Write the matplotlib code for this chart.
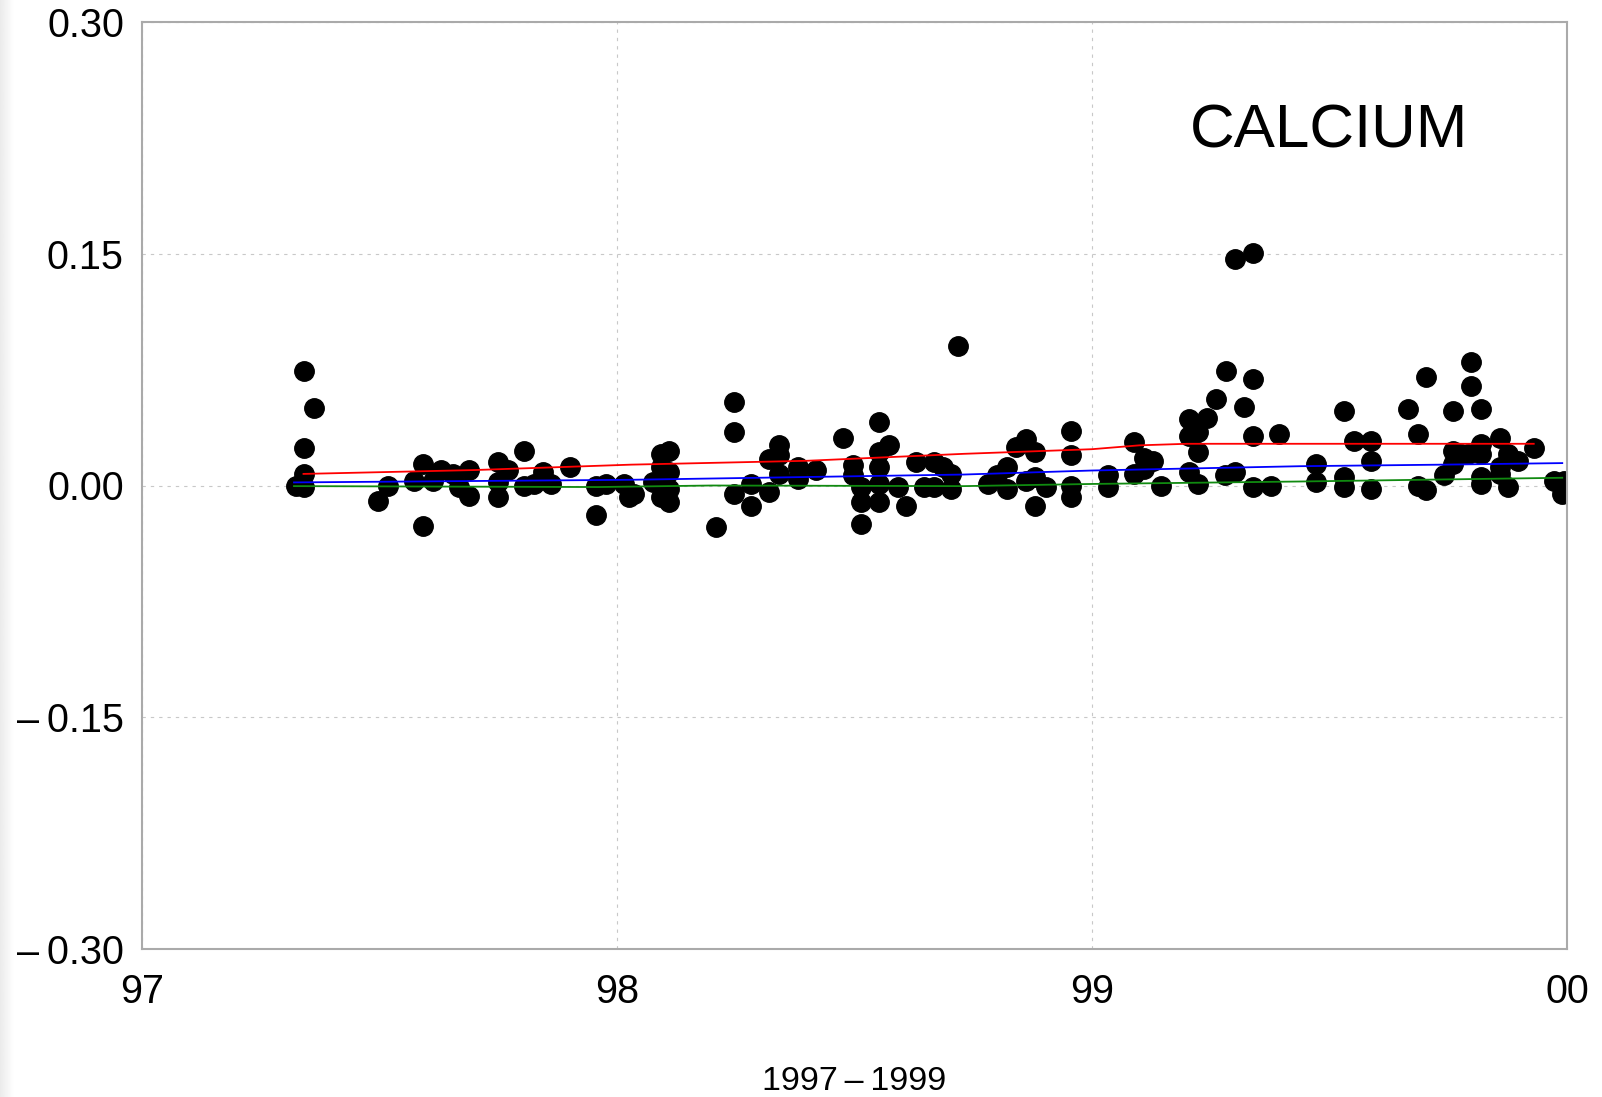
import numpy as np
import matplotlib
matplotlib.use("Agg")
import matplotlib.pyplot as plt

plt.rcParams['font.family'] = ['Liberation Sans', 'DejaVu Sans']

# measured points (x in years 97..100, y = calcium)
pts_x = [97.324, 97.342, 97.363, 97.342, 97.342, 97.342, 97.496, 97.517, 97.591, 97.591,
         97.573, 97.612, 97.630, 97.654, 97.668, 97.689, 97.689, 97.749, 97.749, 97.749,
         97.770, 97.805, 97.805, 97.826, 97.844, 97.861, 97.900, 97.956, 97.956, 97.977,
         98.015, 98.026, 98.036, 98.093, 98.110, 98.093, 98.110, 98.075, 98.093, 98.110,
         98.093, 98.110, 98.247, 98.247, 98.247, 98.208, 98.282, 98.282, 98.321, 98.321,
         98.342, 98.342, 98.342, 98.380, 98.380, 98.419, 98.475, 98.496, 98.496, 98.514,
         98.514, 98.514, 98.552, 98.552, 98.552, 98.552, 98.552, 98.573, 98.591, 98.608,
         98.629, 98.647, 98.668, 98.668, 98.686, 98.703, 98.717, 98.703, 98.780, 98.801,
         98.822, 98.822, 98.840, 98.861, 98.879, 98.861, 98.879, 98.879, 98.903, 98.956,
         98.956, 98.956, 98.956, 99.033, 99.033, 99.089, 99.089, 99.110, 99.128, 99.110,
         99.145, 99.205, 99.205, 99.223, 99.223, 99.205, 99.223, 99.243, 99.261, 99.282,
         99.279, 99.300, 99.321, 99.338, 99.338, 99.338, 99.377, 99.394, 99.300, 99.338,
         99.472, 99.472, 99.531, 99.531, 99.531, 99.552, 99.587, 99.587, 99.587, 99.665,
         99.686, 99.686, 99.703, 99.703, 99.742, 99.759, 99.759, 99.759, 99.777, 99.791,
         99.798, 99.798, 99.819, 99.819, 99.819, 99.819, 99.819, 99.858, 99.858, 99.858,
         99.875, 99.875, 99.896, 99.931, 99.973, 99.994, 99.990]
pts_y = [0.000, 0.074, 0.050, 0.024, 0.0075, -0.001, -0.010, 0.000, -0.026, 0.014,
         0.003, 0.003, 0.010, 0.0075, -0.001, 0.010, -0.0065, 0.015, -0.0075, 0.002,
         0.010, 0.0225, 0.000, 0.001, 0.0085, 0.001, 0.012, -0.019, 0.000, 0.001,
         0.001, -0.0075, -0.0055, 0.0205, 0.0225, 0.012, 0.0085, 0.002, 0.001, -0.002,
         -0.0075, -0.011, 0.054, 0.0345, -0.0055, -0.027, 0.001, -0.013, -0.004, 0.017,
         0.026, 0.020, 0.0075, 0.012, 0.004, 0.010, 0.031, 0.013, 0.0065, -0.001,
         -0.011, -0.025, 0.041, 0.0215, 0.012, 0.001, -0.011, 0.026, -0.001, -0.013,
         0.015, -0.001, 0.015, -0.001, 0.012, -0.002, 0.0905, 0.0075, 0.001, 0.0065,
         0.012, -0.002, 0.025, 0.030, 0.0215, 0.003, 0.0055, -0.013, -0.001, 0.0355,
         0.0195, 0.000, -0.0075, 0.0065, -0.001, 0.028, 0.0075, 0.018, 0.016, 0.011,
         0.000, 0.043, 0.032, 0.0345, 0.0215, 0.0085, 0.001, 0.044, 0.056, 0.074,
         0.0065, 0.0085, 0.0505, 0.069, 0.032, -0.001, 0.000, 0.0335, 0.1465, 0.1505,
         0.014, 0.002, 0.0485, 0.0055, -0.001, 0.029, 0.029, 0.016, -0.002, 0.0495,
         0.0335, 0.000, -0.003, 0.070, 0.0065, 0.0485, 0.0225, 0.014, 0.0205, 0.0205,
         0.080, 0.0645, 0.0495, 0.027, 0.0205, 0.0055, 0.001, 0.031, 0.012, 0.0075,
         0.0205, -0.001, 0.016, 0.0245, 0.003, 0.003, -0.0055]

# smoothed curves
red_x = [97.34, 97.7, 98.03, 98.4, 98.73, 99.0, 99.1, 99.2, 99.5, 99.93]
red_y = [0.0075, 0.010, 0.0135, 0.016, 0.0205, 0.0235, 0.026, 0.027, 0.027, 0.027]
blue_x = [97.32, 98.03, 98.4, 98.73, 99.0, 99.44, 99.74, 99.99]
blue_y = [0.002, 0.0037, 0.0055, 0.0071, 0.0097, 0.0125, 0.0135, 0.0145]
green_x = [97.32, 97.96, 98.2, 98.73, 99.0, 99.44, 99.99]
green_y = [-0.0004, -0.001, 0.0, -0.0004, 0.001, 0.0026, 0.005]

xticks = [97, 98, 99, 100]
xticklabels = ["97", "98", "99", "00"]
yticks = [-0.30, -0.15, 0.00, 0.15, 0.30]
yticklabels = ["\u2013\u20090.30", "\u2013\u20090.15", "0.00", "0.15", "0.30"]


def main():
    fig = plt.figure(figsize=(16.02, 10.97), dpi=100)

    # faint grey strip on the left edge of the screenshot
    strip = fig.add_axes([0, 0, 14 / 1602, 1])
    grad = np.linspace(0.92, 1.0, 50).reshape(1, -1)
    strip.imshow(grad, cmap="gray", vmin=0, vmax=1, aspect="auto")
    strip.axis("off")

    ax = fig.add_axes([142 / 1602, 1 - 949 / 1097, (1567 - 142) / 1602, (949 - 22) / 1097])

    ax.plot(pts_x, pts_y, "o", color="black", markersize=14, zorder=2)
    ax.plot(red_x, red_y, color="#ff0000", lw=1.3, zorder=3)
    ax.plot(blue_x, blue_y, color="#0000ff", lw=1.3, zorder=3)
    ax.plot(green_x, green_y, color="#108a10", lw=1.3, zorder=3)

    ax.set_xlim(97, 100)
    ax.set_ylim(-0.30, 0.30)
    ax.set_xticks(xticks)
    ax.set_xticklabels(xticklabels)
    ax.set_yticks(yticks)
    ax.set_yticklabels(yticklabels)
    ax.tick_params(axis="both", length=0, labelsize=28.5)
    ax.tick_params(axis="x", pad=17)
    ax.tick_params(axis="y", pad=13)

    ax.grid(True, color="#c8c8c8", lw=0.8, linestyle=(0, (3, 4.5)), zorder=0)
    for s in ax.spines.values():
        s.set_color("#aaaaaa")
        s.set_linewidth(1.5)

    ax.text(0.833, 0.865, "CALCIUM", transform=ax.transAxes, ha="center",
            va="baseline", fontsize=44.6)
    ax.set_xlabel("1997\u2009\u2013\u20091999", fontsize=24.5, labelpad=40)

    fig.savefig("out.png", dpi=100)


if __name__ == "__main__":
    main()
